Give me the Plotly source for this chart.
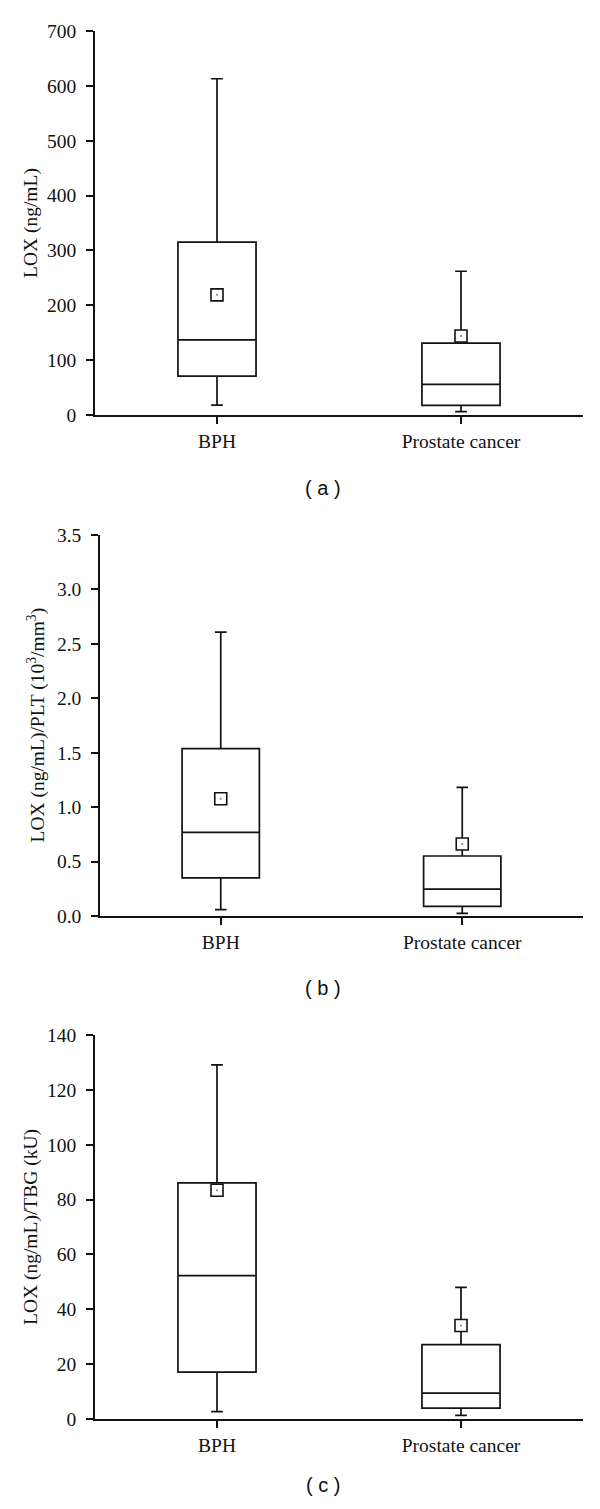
import plotly.graph_objects as go

categories = ["BPH", "Prostate cancer"]

# Panel (a): LOX (ng/mL)
a_lower = [18, 6]
a_q1 = [71, 17.6]
a_median = [137, 56]
a_q3 = [315, 131]
a_upper = [613, 262]
a_mean = [219, 144]

# Panel (b): LOX / PLT
b_lower = [0.058, 0.025]
b_q1 = [0.351, 0.089]
b_median = [0.769, 0.246]
b_q3 = [1.538, 0.551]
b_upper = [2.608, 1.181]
b_mean = [1.077, 0.661]

# Panel (c): LOX / TBG
c_lower = [2.7, 1.3]
c_q1 = [17.1, 4.0]
c_median = [52.3, 9.4]
c_q3 = [86.1, 27.1]
c_upper = [129.1, 48.0]
c_mean = [83.4, 34.1]

y_titles = ["LOX (ng/mL)",
            "LOX (ng/mL)/PLT (10<sup>3</sup>/mm<sup>3</sup>)",
            "LOX (ng/mL)/TBG (kU)"]
captions = ["( a )", "( b )", "( c )"]
y_ranges = [[0, 700], [0, 3.5], [0, 140]]
y_dticks = [100, 0.5, 20]
y_formats = ["d", ".1f", "d"]

W, H = 600, 1509
panels_px = [  # (x_left, x_right, y_top, y_bottom)
    (95, 583, 31, 415),
    (100, 583, 535, 916),
    (95, 583, 1035, 1419),
]
title_x_px = [31, 36, 31]
caption_y_px = [488, 988, 1485]

serif = "Liberation Serif, Times New Roman, serif"
sans = "Liberation Sans, Arial, sans-serif"
FS = 19.5

fig = go.Figure()
data = [
    (a_lower, a_q1, a_median, a_q3, a_upper, a_mean),
    (b_lower, b_q1, b_median, b_q3, b_upper, b_mean),
    (c_lower, c_q1, c_median, c_q3, c_upper, c_mean),
]

layout = dict(
    width=W, height=H,
    margin=dict(l=0, r=0, t=0, b=0, autoexpand=False),
    paper_bgcolor="white", plot_bgcolor="white",
    showlegend=False,
    font=dict(family=serif, size=FS, color="#111"),
)
annotations = []
for i, (lo, q1, med, q3, up, mean) in enumerate(data):
    n = "" if i == 0 else str(i + 1)
    xa, ya = "x" + n, "y" + n
    fig.add_trace(go.Box(
        x=categories, q1=q1, median=med, q3=q3,
        lowerfence=lo, upperfence=up,
        boxpoints=False, width=0.32, whiskerwidth=0.15,
        line=dict(color="#111", width=1.7),
        fillcolor="rgba(0,0,0,0)",
        xaxis=xa, yaxis=ya, hoverinfo="skip",
    ))
    fig.add_trace(go.Scatter(
        x=categories, y=mean, mode="markers",
        marker=dict(symbol="square", size=12, color="white",
                    line=dict(color="#111", width=1.6)),
        xaxis=xa, yaxis=ya, hoverinfo="skip",
    ))
    fig.add_trace(go.Scatter(
        x=categories, y=mean, mode="markers",
        marker=dict(symbol="square", size=2, color="#999",
                    line=dict(width=0)),
        xaxis=xa, yaxis=ya, hoverinfo="skip",
    ))
    xl, xr, yt, yb = panels_px[i]
    xdom = [xl / W, xr / W]
    ydom = [1 - yb / H, 1 - yt / H]
    layout["xaxis" + n] = dict(
        domain=xdom, anchor=ya, type="category", automargin=False,
        range=[-0.5, 1.5], showgrid=False, zeroline=False,
        showline=True, linecolor="#111", linewidth=1.5,
        ticks="outside", ticklen=7, tickwidth=1.5, tickcolor="#111",
        tickfont=dict(family=serif, size=FS, color="#111"),
        ticklabelstandoff=1,
    )
    layout["yaxis" + n] = dict(
        domain=ydom, anchor=xa, range=y_ranges[i], dtick=y_dticks[i],
        tick0=0, tickformat=y_formats[i], automargin=False,
        showgrid=False, zeroline=False,
        showline=True, linecolor="#111", linewidth=1.5,
        ticks="outside", ticklen=7, tickwidth=1.5, tickcolor="#111",
        tickfont=dict(family=serif, size=FS, color="#111"),
        ticklabelstandoff=6,
    )
    annotations.append(dict(
        text=y_titles[i], textangle=-90, showarrow=False,
        xref="paper", yref="paper",
        x=title_x_px[i] / W, y=1 - (yt + yb) / 2 / H,
        xanchor="center", yanchor="middle",
        font=dict(family=serif, size=FS, color="#111"),
    ))
    annotations.append(dict(
        text=captions[i], showarrow=False,
        xref="paper", yref="paper",
        x=323 / W, y=1 - caption_y_px[i] / H,
        xanchor="center", yanchor="middle",
        font=dict(family=sans, size=20, color="#111"),
    ))

layout["annotations"] = annotations
fig.update_layout(**layout)
fig.write_html("out.html",
               config={"displayModeBar": False},
               post_script="document.body.style.margin='0';document.body.style.padding='0';")
